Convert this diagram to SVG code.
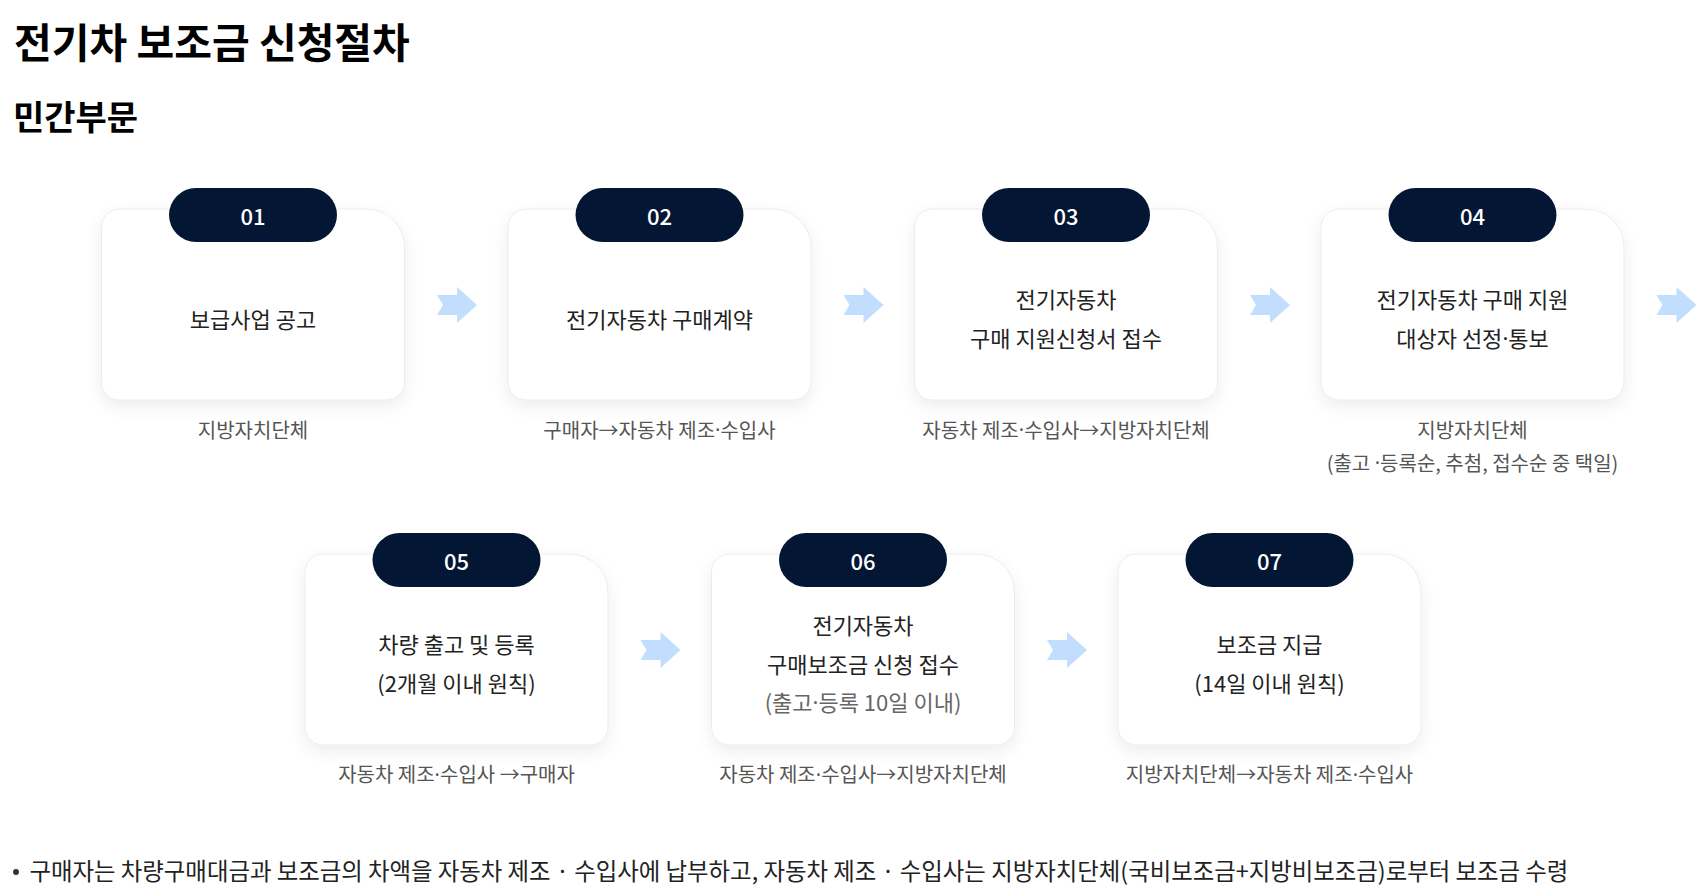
<svg xmlns="http://www.w3.org/2000/svg" xmlns:xlink="http://www.w3.org/1999/xlink" width="1707" height="893" viewBox="0 0 1707 893">
<defs>
<style>
text{font-family:"Noto Sans CJK KR","Noto Sans",sans-serif;}
.d{font-family:"Noto Sans",sans-serif;}
.title{font-size:41px;font-weight:700;fill:#000;dominant-baseline:central;}
.sub{font-size:34px;font-weight:700;fill:#000;dominant-baseline:central;}
.card{fill:#fff;stroke:#ececec;stroke-width:1;filter:url(#sh);}
.pill{fill:#031633;}
.num{font-size:22px;font-weight:500;fill:#fff;text-anchor:middle;dominant-baseline:central;}
.body{font-size:22px;fill:#222;text-anchor:middle;dominant-baseline:central;}
.body2{font-size:22px;fill:#666;text-anchor:middle;dominant-baseline:central;}
.cap{font-size:20px;fill:#555;text-anchor:middle;dominant-baseline:central;}
.arrow{fill:#c2defe;}
.note{font-size:23.4px;fill:#222;dominant-baseline:central;}
.bullet{fill:#333;}
</style>
<filter id="sh" x="-20%" y="-20%" width="140%" height="150%">
<feDropShadow dx="0" dy="6" stdDeviation="8" flood-color="#000" flood-opacity="0.07"/>
</filter>
<path id="cardShape" d="M18,0 H265 A38,38 0 0 1 303,38 V173 A18,18 0 0 1 285,191 H18 A18,18 0 0 1 0,173 V18 A18,18 0 0 1 18,0 Z"/>
<path id="arr" d="M0,8 H20 V0 L40,18 L20,36 V28 H0 L6,18 Z"/>
</defs>
<rect width="1707" height="893" fill="#fff"/>
<text class="title" x="14" y="39.5">전기차 보조금 신청절차</text>
<text class="sub" x="13" y="115">민간부문</text>

<g id="connectors">
<use href="#arr" class="arrow" x="437" y="287"/>
<use href="#arr" class="arrow" x="843.5" y="287"/>
<use href="#arr" class="arrow" x="1250" y="287"/>
<use href="#arr" class="arrow" x="1656.5" y="287"/>
<use href="#arr" class="arrow" x="640.5" y="632"/>
<use href="#arr" class="arrow" x="1047" y="632"/>
</g>

<g id="step01">
<use href="#cardShape" class="card" x="101.5" y="209"/>
<rect class="pill" x="169" y="188" width="168" height="54" rx="27"/>
<text class="num" x="253" y="215">01</text>
<text class="body" x="253" y="317.5">보급사업 공고</text>
<text class="cap" x="253" y="429">지방자치단체</text>
</g>

<g id="step02">
<use href="#cardShape" class="card" x="508" y="209"/>
<rect class="pill" x="575.5" y="188" width="168" height="54" rx="27"/>
<text class="num" x="659.5" y="215">02</text>
<text class="body" x="659.5" y="317.5">전기자동차 구매계약</text>
<text class="cap" x="659.5" y="429">구매자→자동차 제조<tspan class="d">·</tspan>수입사</text>
</g>

<g id="step03">
<use href="#cardShape" class="card" x="914.5" y="209"/>
<rect class="pill" x="982" y="188" width="168" height="54" rx="27"/>
<text class="num" x="1066" y="215">03</text>
<text class="body" x="1066" y="297.5">전기자동차</text>
<text class="body" x="1066" y="336.5">구매 지원신청서 접수</text>
<text class="cap" x="1066" y="429">자동차 제조<tspan class="d">·</tspan>수입사→지방자치단체</text>
</g>

<g id="step04">
<use href="#cardShape" class="card" x="1321" y="209"/>
<rect class="pill" x="1388.5" y="188" width="168" height="54" rx="27"/>
<text class="num" x="1472.5" y="215">04</text>
<text class="body" x="1472.5" y="297.5">전기자동차 구매 지원</text>
<text class="body" x="1472.5" y="336.5">대상자 선정<tspan class="d">·</tspan>통보</text>
<text class="cap" x="1472.5" y="429">지방자치단체</text>
<text class="cap" x="1472.5" y="462">(출고 <tspan class="d">·</tspan>등록순, 추첨, 접수순 중 택일)</text>
</g>

<g id="step05">
<use href="#cardShape" class="card" x="305" y="554"/>
<rect class="pill" x="372.5" y="533" width="168" height="54" rx="27"/>
<text class="num" x="456.5" y="560">05</text>
<text class="body" x="456.5" y="643">차량 출고 및 등록</text>
<text class="body" x="456.5" y="682">(2개월 이내 원칙)</text>
<text class="cap" x="456.5" y="773.5">자동차 제조<tspan class="d">·</tspan>수입사 →구매자</text>
</g>

<g id="step06">
<use href="#cardShape" class="card" x="711.5" y="554"/>
<rect class="pill" x="779" y="533" width="168" height="54" rx="27"/>
<text class="num" x="863" y="560">06</text>
<text class="body" x="863" y="623.5">전기자동차</text>
<text class="body" x="863" y="662.5">구매보조금 신청 접수</text>
<text class="body2" x="863" y="701">(출고<tspan class="d">·</tspan>등록 10일 이내)</text>
<text class="cap" x="863" y="773.5">자동차 제조<tspan class="d">·</tspan>수입사→지방자치단체</text>
</g>

<g id="step07">
<use href="#cardShape" class="card" x="1118" y="554"/>
<rect class="pill" x="1185.5" y="533" width="168" height="54" rx="27"/>
<text class="num" x="1269.5" y="560">07</text>
<text class="body" x="1269.5" y="643">보조금 지급</text>
<text class="body" x="1269.5" y="682">(14일 이내 원칙)</text>
<text class="cap" x="1269.5" y="773.5">지방자치단체→자동차 제조<tspan class="d">·</tspan>수입사</text>
</g>

<circle class="bullet" cx="16" cy="872" r="3"/>
<text class="note" x="29.5" y="870">구매자는 차량구매대금과 보조금의 차액을 자동차 제조 · 수입사에 납부하고, 자동차 제조 · 수입사는 지방자치단체(국비보조금+지방비보조금)로부터 보조금 수령</text>
</svg>
